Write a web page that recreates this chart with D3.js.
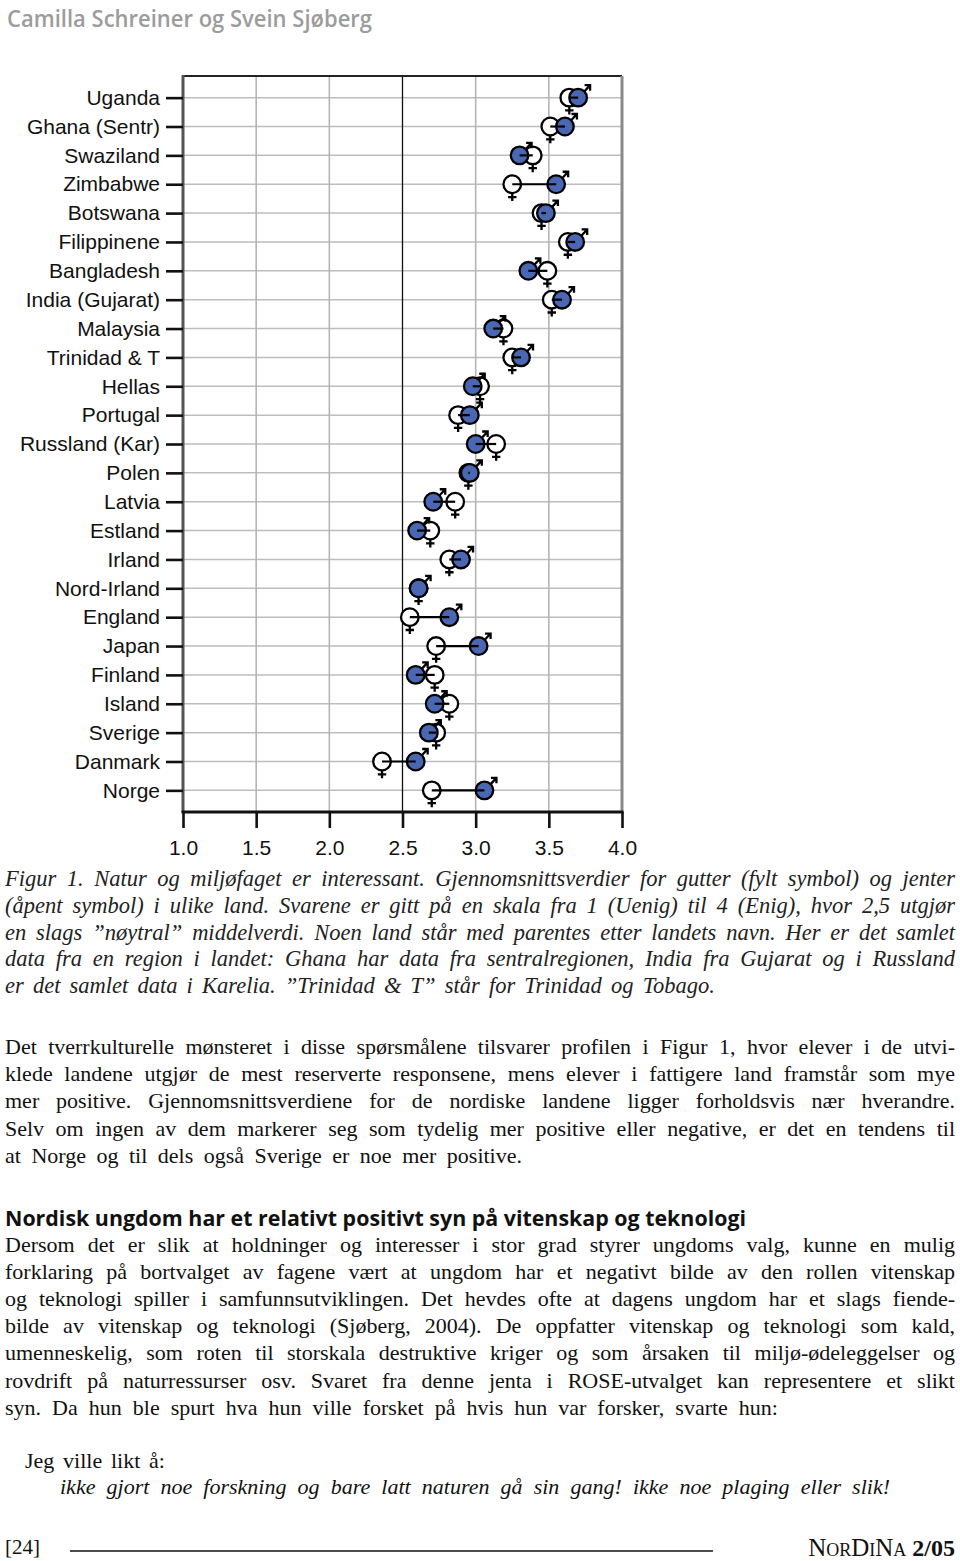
<!DOCTYPE html>
<html><head><meta charset="utf-8">
<script src="https://cdn.jsdelivr.net/npm/d3@7"></script>
<style>
html,body{margin:0;padding:0;background:#fff;}
svg{display:block;}
</style></head>
<body>
<svg id="page" width="960" height="1561"></svg>
<script>
// ---------- DATA ----------
const countries = ["Uganda","Ghana (Sentr)","Swaziland","Zimbabwe","Botswana","Filippinene","Bangladesh","India (Gujarat)","Malaysia","Trinidad & T","Hellas","Portugal","Russland (Kar)","Polen","Latvia","Estland","Irland","Nord-Irland","England","Japan","Finland","Island","Sverige","Danmark","Norge"];
const boys  = [3.70,3.61,3.30,3.55,3.48,3.68,3.36,3.59,3.12,3.31,2.98,2.96,3.00,2.96,2.71,2.60,2.90,2.61,2.82,3.02,2.59,2.72,2.68,2.59,3.06];
const girls = [3.64,3.51,3.39,3.25,3.45,3.63,3.49,3.52,3.19,3.25,3.03,2.88,3.14,2.95,2.86,2.69,2.82,2.61,2.55,2.73,2.72,2.82,2.73,2.36,2.70];
const xTicks = [1.0,1.5,2.0,2.5,3.0,3.5,4.0];

const headerText = "Camilla Schreiner og Svein Sjøberg";
const captionLines = [
 "Figur 1. Natur og miljøfaget er interessant. Gjennomsnittsverdier for gutter (fylt symbol) og jenter",
 "(åpent symbol) i ulike land. Svarene er gitt på en skala fra 1 (Uenig) til 4 (Enig), hvor 2,5 utgjør",
 "en slags ”nøytral” middelverdi. Noen land står med parentes etter landets navn. Her er det samlet",
 "data fra en region i landet: Ghana har data fra sentralregionen, India fra Gujarat og i Russland",
 "er det samlet data i Karelia. ”Trinidad & T” står for Trinidad og Tobago."
];
const bodyLines = [
 "Det tverrkulturelle mønsteret i disse spørsmålene tilsvarer profilen i Figur 1, hvor elever i de utvi-",
 "klede landene utgjør de mest reserverte responsene, mens elever i fattigere land framstår som mye",
 "mer positive. Gjennomsnittsverdiene for de nordiske landene ligger forholdsvis nær hverandre.",
 "Selv om ingen av dem markerer seg som tydelig mer positive eller negative, er det en tendens til",
 "at Norge og til dels også Sverige er noe mer positive."
];
const headingText = "Nordisk ungdom har et relativt positivt syn på vitenskap og teknologi";
const paraLines = [
 "Dersom det er slik at holdninger og interesser i stor grad styrer ungdoms valg, kunne en mulig",
 "forklaring på bortvalget av fagene vært at ungdom har et negativt bilde av den rollen vitenskap",
 "og teknologi spiller i samfunnsutviklingen. Det hevdes ofte at dagens ungdom har et slags fiende-",
 "bilde av vitenskap og teknologi (Sjøberg, 2004). De oppfatter vitenskap og teknologi som kald,",
 "umenneskelig, som roten til storskala destruktive kriger og som årsaken til miljø-ødeleggelser og",
 "rovdrift på naturressurser osv. Svaret fra denne jenta i ROSE-utvalget kan representere et slikt",
 "syn. Da hun ble spurt hva hun ville forsket på hvis hun var forsker, svarte hun:"
];
const quoteIntro = "Jeg ville likt å:";
const quoteText = "ikke gjort noe forskning og bare latt naturen gå sin gang! ikke noe plaging eller slik!";

// ---------- SETUP ----------
const svg = d3.select("#page");
svg.append("rect").attr("width",960).attr("height",1561).attr("fill","#fff");

const plot = {left:183, right:622, top:76, bottom:812};
const x = d3.scaleLinear().domain([1,4]).range([plot.left, plot.right]);
const y = d3.scalePoint().domain(countries).range([plot.top, plot.bottom]).padding(0.75);

const g = svg.append("g");

// gridlines
g.selectAll("line.hgrid").data(countries).join("line")
  .attr("x1",plot.left).attr("x2",plot.right)
  .attr("y1",d=>y(d)).attr("y2",d=>y(d))
  .attr("stroke","#bdbdbd").attr("stroke-width",1.5);
g.selectAll("line.vgrid").data(xTicks.filter(t=>t>1 && t<4)).join("line")
  .attr("x1",d=>x(d)).attr("x2",d=>x(d))
  .attr("y1",plot.top).attr("y2",plot.bottom)
  .attr("stroke",d=>d===2.5?"#111":"#b5b5b5").attr("stroke-width",d=>d===2.5?1.3:1.6);

// frame
g.append("line").attr("x1",plot.left).attr("x2",plot.right).attr("y1",plot.top).attr("y2",plot.top).attr("stroke","#222").attr("stroke-width",2.2);
g.append("line").attr("x1",plot.right).attr("x2",plot.right).attr("y1",plot.top).attr("y2",plot.bottom).attr("stroke","#8a8a8a").attr("stroke-width",3);
g.append("line").attr("x1",plot.left).attr("x2",plot.left).attr("y1",plot.top-1).attr("y2",plot.bottom).attr("stroke","#555").attr("stroke-width",3);

// x axis
const xAxis = d3.axisBottom(x).tickValues(xTicks).tickFormat(d3.format(".1f")).tickSize(16).tickPadding(12);
const xa = svg.append("g").attr("transform",`translate(0,${plot.bottom})`).call(xAxis);
xa.select(".domain").attr("stroke","#111").attr("stroke-width",3.2).attr("d",`M${plot.left-1.5},0H${plot.right+1.5}`);
xa.selectAll(".tick line").attr("stroke","#111").attr("stroke-width",2.6);
xa.selectAll(".tick text").attr("font-family","'Liberation Sans', Arial, sans-serif").attr("font-size",21).attr("fill","#111");

// y axis
const yAxis = d3.axisLeft(y).tickSize(17).tickPadding(6);
const ya = svg.append("g").attr("transform",`translate(${plot.left},0)`).call(yAxis);
ya.select(".domain").remove();
ya.selectAll(".tick line").attr("stroke","#111").attr("stroke-width",2.6);
ya.selectAll(".tick text").attr("font-family","'Liberation Sans', Arial, sans-serif").attr("font-size",21).attr("fill","#111");

// symbols
const rows = countries.map((c,i)=>({c, b:boys[i], gv:girls[i]}));
const R = 8.8, SW = 2.3, blue = "#4a67b3";
const rowG = svg.append("g").selectAll("g").data(rows).join("g");

// female symbol (open circle with cross)
rowG.append("circle").attr("cx",d=>x(d.gv)).attr("cy",d=>y(d.c)).attr("r",R)
  .attr("fill","#fff").attr("stroke","#000").attr("stroke-width",SW);
rowG.append("path").attr("d",d=>{const cx=x(d.gv), cy=y(d.c);
    return `M${cx},${cy+R}V${cy+R+8}M${cx-4.2},${cy+R+4}H${cx+4.2}`;})
  .attr("stroke","#000").attr("stroke-width",SW).attr("fill","none");
// male symbol (filled circle with arrow)
rowG.append("circle").attr("cx",d=>x(d.b)).attr("cy",d=>y(d.c)).attr("r",R)
  .attr("fill",blue).attr("stroke","#000").attr("stroke-width",SW);
rowG.append("path").attr("d",d=>{const cx=x(d.b), cy=y(d.c);
    const s=R*Math.SQRT1_2, tx=cx+12, ty=cy-12.5;
    return `M${cx+s},${cy-s}L${tx},${ty}M${tx-5.5},${ty}H${tx}V${ty+5.5}`;})
  .attr("stroke","#000").attr("stroke-width",SW).attr("fill","none");
// connecting line
rowG.append("line").attr("x1",d=>x(d.gv)).attr("x2",d=>x(d.b))
  .attr("y1",d=>y(d.c)).attr("y2",d=>y(d.c)).attr("stroke","#000").attr("stroke-width",2.2);

// ---------- TEXT ----------
function line(txt, x0, yb, width, opts){
  const t = svg.append("text").attr("x",x0).attr("y",yb)
    .attr("font-family",opts.family).attr("font-size",opts.size)
    .attr("font-style",opts.style||"normal").attr("font-weight",opts.weight||"normal")
    .attr("fill",opts.fill||"#111").text(txt);
  if(width){
    const w = t.node().getComputedTextLength();
    const spaces = (txt.match(/ /g)||[]).length;
    if(w < width && spaces>0 && !opts.noWs){
      t.style("word-spacing", ((width-w)/spaces)+"px");
    } else {
      t.attr("textLength",width).attr("lengthAdjust","spacingAndGlyphs");
    }
  }
  return t;
}
const serif = "'Liberation Serif','Times New Roman',serif";
const sans  = "'Open Sans','Noto Sans',sans-serif";

line(headerText, 7, 27, 365, {family:sans, size:24, weight:600, fill:"#9c9c9c", noWs:true});

const capW = [950,950,950,950,710];
captionLines.forEach((s,i)=> line(s, 5, 886+i*26.8, capW[i], {family:serif, size:22.5, style:"italic", fill:"#222"}));

const bodyW = [950,950,950,950,517];
bodyLines.forEach((s,i)=> line(s, 5, 1054+i*27.2, bodyW[i], {family:serif, size:22, fill:"#111"}));

line(headingText, 5, 1226, 741, {family:sans, size:22, weight:700, fill:"#111", noWs:true});

const paraW = [950,950,950,950,950,950,773];
paraLines.forEach((s,i)=> line(s, 5, 1252+i*27.1, paraW[i], {family:serif, size:22, fill:"#111"}));

line(quoteIntro, 25, 1468, 140, {family:serif, size:22, fill:"#111"});
line(quoteText, 60, 1494, 830, {family:serif, size:22, style:"italic", fill:"#111"});

// footer
svg.append("text").attr("x",5).attr("y",1554).attr("font-family",serif).attr("font-size",21).attr("fill","#111").text("[24]");
svg.append("line").attr("x1",70).attr("x2",713).attr("y1",1551).attr("y2",1551).attr("stroke","#111").attr("stroke-width",1.5);
const ft = svg.append("text").attr("x",955).attr("y",1556).attr("text-anchor","end")
  .attr("font-family",serif).attr("font-size",25).attr("fill","#111");
[["N",25],["OR",18],["D",25],["I",18],["N",25],["A",18]].forEach(([s,sz])=>ft.append("tspan").attr("font-size",sz).text(s));
ft.append("tspan").attr("font-weight","bold").attr("font-size",24).text(" 2/05");
</script>
</body></html>
